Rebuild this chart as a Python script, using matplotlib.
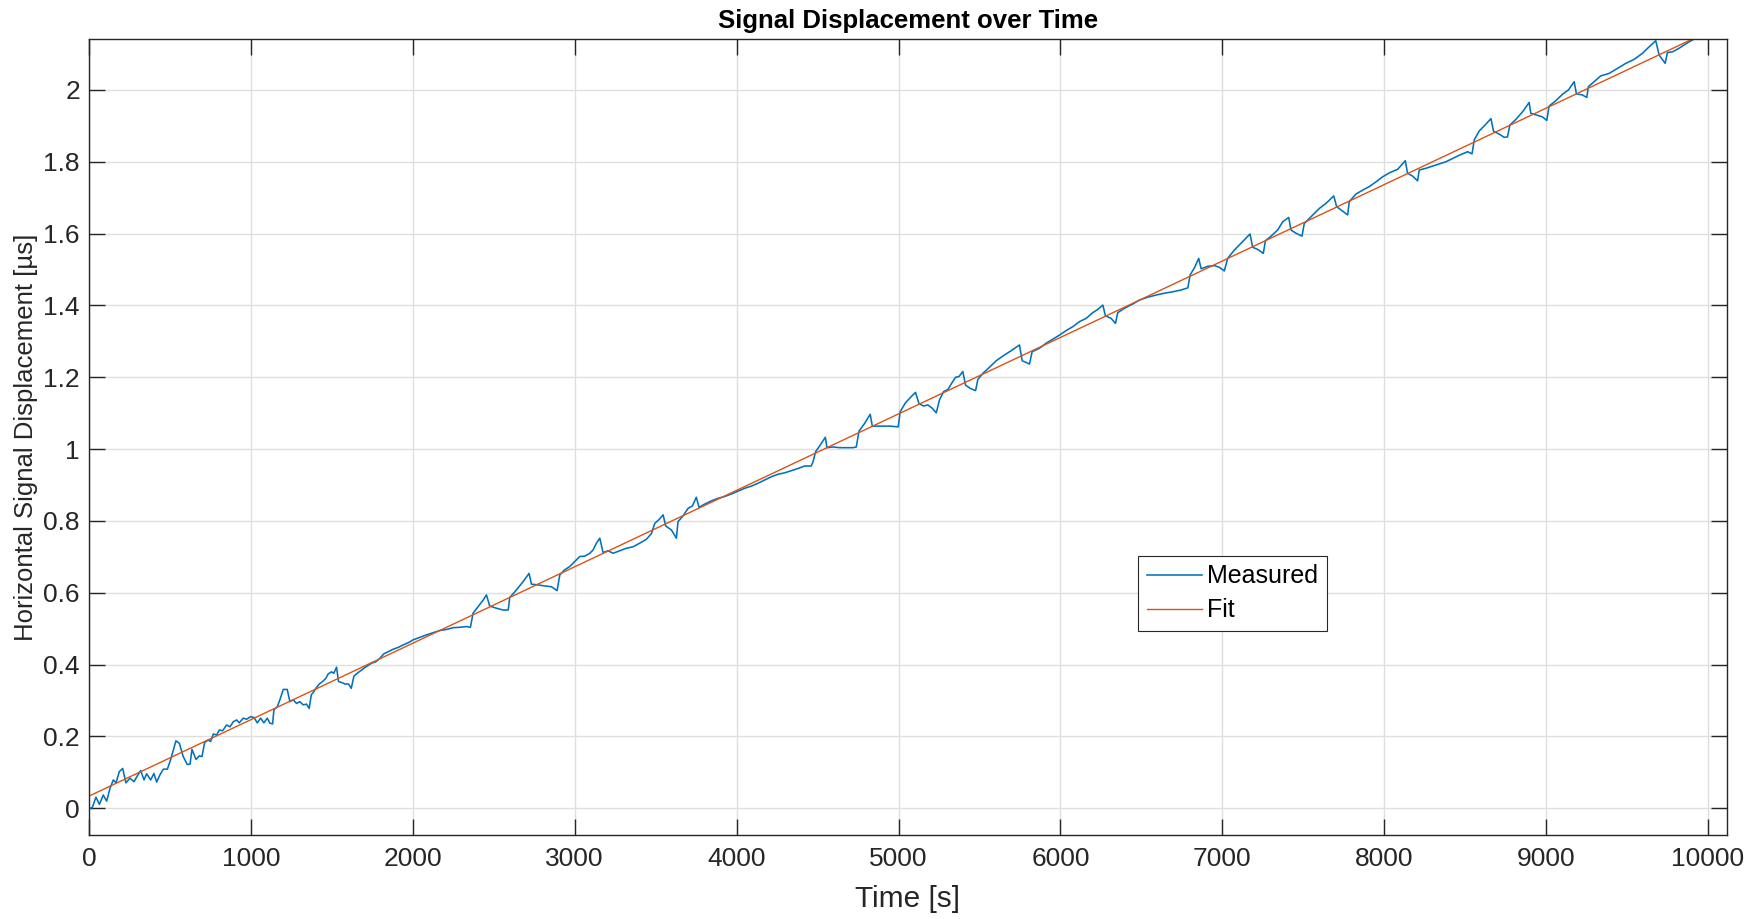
import matplotlib
matplotlib.use("Agg")
import matplotlib.pyplot as plt

plt.rcParams['font.family'] = ['Liberation Sans', 'DejaVu Sans']

# ---- data ----
time_s = [6, 20, 43, 64, 88, 109, 130, 150, 167, 187, 208, 228, 253, 278, 298, 319, 340, 356, 381, 401,
          418, 438, 459, 484, 504, 537, 558, 582, 607, 624, 636, 661, 681, 698, 714, 735, 751, 768, 788, 805,
          825, 850, 871, 891, 912, 928, 953, 973, 998, 1019, 1039, 1060, 1080, 1101, 1117, 1134, 1142, 1163, 1179, 1200,
          1224, 1241, 1261, 1282, 1302, 1323, 1344, 1360, 1373, 1389, 1406, 1422, 1443, 1463, 1477, 1498, 1512, 1529, 1541, 1562,
          1582, 1603, 1620, 1636, 1657, 1677, 1698, 1718, 1745, 1772, 1797, 1821, 1848, 1879, 1910, 1941, 1972, 2002, 2044, 2085,
          2126, 2167, 2209, 2250, 2291, 2332, 2356, 2372, 2403, 2435, 2455, 2475, 2517, 2558, 2589, 2599, 2640, 2681, 2718, 2733,
          2774, 2815, 2856, 2891, 2908, 2938, 2969, 3000, 3031, 3062, 3093, 3113, 3134, 3155, 3175, 3206, 3237, 3278, 3319, 3360,
          3401, 3443, 3474, 3494, 3521, 3546, 3562, 3597, 3628, 3638, 3669, 3700, 3727, 3751, 3768, 3803, 3844, 3885, 3926, 3967,
          4009, 4050, 4091, 4132, 4173, 4214, 4256, 4297, 4338, 4379, 4420, 4461, 4472, 4488, 4513, 4548, 4558, 4595, 4636, 4677,
          4719, 4739, 4756, 4791, 4825, 4838, 4883, 4945, 4998, 5010, 5043, 5078, 5105, 5126, 5154, 5181, 5208, 5233, 5253, 5278,
          5305, 5325, 5352, 5373, 5397, 5414, 5443, 5476, 5490, 5521, 5562, 5603, 5644, 5696, 5747, 5764, 5809, 5825, 5871, 5912,
          5953, 5996, 6035, 6077, 6118, 6159, 6200, 6231, 6262, 6278, 6313, 6340, 6354, 6395, 6447, 6488, 6540, 6591, 6642, 6694,
          6745, 6787, 6801, 6828, 6854, 6869, 6910, 6951, 6982, 7012, 7033, 7074, 7115, 7146, 7171, 7187, 7218, 7253, 7266, 7301,
          7342, 7373, 7410, 7424, 7455, 7492, 7506, 7537, 7568, 7599, 7640, 7688, 7706, 7739, 7774, 7784, 7825, 7867, 7908, 7949,
          7990, 8031, 8083, 8130, 8144, 8175, 8206, 8216, 8258, 8299, 8340, 8381, 8422, 8463, 8515, 8542, 8556, 8587, 8618, 8659,
          8675, 8710, 8741, 8761, 8776, 8813, 8854, 8895, 8905, 8940, 8977, 9004, 9018, 9060, 9101, 9138, 9173, 9187, 9224, 9251,
          9261, 9296, 9337, 9389, 9440, 9492, 9543, 9595, 9636, 9677, 9698, 9735, 9749, 9780, 9821, 9862, 9903, 9944, 9990, 10040,
          10110]
measured_us = [0.000, 0.002, 0.031, 0.011, 0.037, 0.020, 0.056, 0.079, 0.071, 0.102, 0.111, 0.071, 0.084, 0.074, 0.090, 0.105, 0.079, 0.096, 0.079, 0.097,
               0.073, 0.093, 0.109, 0.109, 0.135, 0.188, 0.181, 0.144, 0.122, 0.123, 0.164, 0.136, 0.146, 0.144, 0.183, 0.190, 0.186, 0.207, 0.204, 0.218,
               0.216, 0.232, 0.227, 0.241, 0.246, 0.238, 0.251, 0.248, 0.255, 0.253, 0.238, 0.251, 0.238, 0.251, 0.237, 0.235, 0.274, 0.283, 0.302, 0.331,
               0.331, 0.297, 0.302, 0.292, 0.297, 0.288, 0.290, 0.278, 0.316, 0.325, 0.337, 0.346, 0.353, 0.362, 0.374, 0.380, 0.376, 0.393, 0.353, 0.350,
               0.346, 0.346, 0.334, 0.368, 0.376, 0.383, 0.390, 0.396, 0.404, 0.408, 0.418, 0.430, 0.436, 0.443, 0.448, 0.455, 0.461, 0.469, 0.476, 0.483,
               0.489, 0.495, 0.498, 0.503, 0.504, 0.506, 0.504, 0.543, 0.561, 0.580, 0.594, 0.563, 0.557, 0.552, 0.552, 0.587, 0.608, 0.631, 0.654, 0.624,
               0.622, 0.619, 0.617, 0.606, 0.650, 0.664, 0.673, 0.687, 0.701, 0.702, 0.710, 0.719, 0.738, 0.752, 0.712, 0.717, 0.710, 0.717, 0.724, 0.728,
               0.738, 0.749, 0.765, 0.793, 0.804, 0.817, 0.786, 0.775, 0.752, 0.798, 0.814, 0.835, 0.842, 0.866, 0.838, 0.847, 0.856, 0.863, 0.868, 0.875,
               0.883, 0.891, 0.897, 0.905, 0.914, 0.923, 0.930, 0.934, 0.940, 0.946, 0.953, 0.953, 0.965, 0.993, 1.009, 1.033, 1.004, 1.006, 1.004, 1.004,
               1.004, 1.006, 1.050, 1.072, 1.097, 1.064, 1.064, 1.064, 1.062, 1.104, 1.129, 1.146, 1.158, 1.127, 1.120, 1.123, 1.114, 1.101, 1.137, 1.160,
               1.166, 1.181, 1.200, 1.202, 1.216, 1.178, 1.169, 1.163, 1.194, 1.211, 1.228, 1.246, 1.259, 1.274, 1.290, 1.246, 1.237, 1.271, 1.281, 1.295,
               1.306, 1.318, 1.330, 1.341, 1.355, 1.364, 1.380, 1.389, 1.401, 1.371, 1.364, 1.350, 1.380, 1.392, 1.404, 1.415, 1.423, 1.429, 1.434, 1.438,
               1.443, 1.449, 1.485, 1.505, 1.531, 1.502, 1.509, 1.511, 1.506, 1.496, 1.531, 1.554, 1.573, 1.587, 1.599, 1.562, 1.556, 1.545, 1.580, 1.593,
               1.610, 1.633, 1.645, 1.610, 1.601, 1.593, 1.628, 1.642, 1.656, 1.670, 1.684, 1.705, 1.675, 1.664, 1.652, 1.689, 1.710, 1.721, 1.731, 1.744,
               1.758, 1.769, 1.779, 1.803, 1.768, 1.760, 1.747, 1.777, 1.782, 1.788, 1.794, 1.800, 1.809, 1.818, 1.828, 1.822, 1.861, 1.886, 1.900, 1.920,
               1.885, 1.877, 1.868, 1.869, 1.902, 1.918, 1.939, 1.965, 1.935, 1.930, 1.925, 1.915, 1.955, 1.970, 1.988, 2.000, 2.023, 1.989, 1.986, 1.979,
               2.009, 2.023, 2.039, 2.046, 2.060, 2.074, 2.085, 2.102, 2.120, 2.137, 2.097, 2.074, 2.104, 2.106, 2.116, 2.128, 2.139, 2.148, 2.160, 2.142,
               2.170]

fit_time_s = [0, 10117]
fit_us = [0.034, 2.187]

x_ticks = [0, 1000, 2000, 3000, 4000, 5000, 6000, 7000, 8000, 9000, 10000]
y_ticks = [0, 0.2, 0.4, 0.6, 0.8, 1.0, 1.2, 1.4, 1.6, 1.8, 2.0]
y_tick_labels = ['0', '0.2', '0.4', '0.6', '0.8', '1', '1.2', '1.4', '1.6', '1.8', '2']

# ---- figure ----
W, H = 1758, 919
fig = plt.figure(figsize=(W / 100, H / 100), dpi=100)
ax = fig.add_axes([89 / W, 1 - 835 / H, (1727 - 89) / W, (835 - 38.7) / H])

ax.plot(time_s, measured_us, color='#0072BD', lw=1.15, label='Measured')
ax.plot(fit_time_s, fit_us, color='#D95319', lw=1.0, label='Fit')

ax.set_xlim(0, 10117)
ax.set_ylim(-0.0743, 2.1426)
ax.set_xticks(x_ticks)
ax.set_yticks(y_ticks)
ax.set_yticklabels(y_tick_labels)

dark = '#262626'
ax.grid(True, color='#dfdfdf', lw=1.0)
ax.set_axisbelow(True)
for s in ax.spines.values():
    s.set_color(dark)
    s.set_linewidth(1.0)
ax.tick_params(direction='in', length=11.5, width=1.0, colors=dark,
               top=True, right=True, labelsize=19)
ax.tick_params(axis='x', pad=9)
ax.tick_params(axis='y', pad=6.5)

ax.set_xlabel('Time [s]', fontsize=21.5, color=dark, labelpad=10)
ax.set_ylabel('Horizontal Signal Displacement [µs]', fontsize=18.5, color=dark, labelpad=4)
ax.set_title('Signal Displacement over Time', fontsize=18.5, fontweight='bold', color='black', pad=7.5)

leg = ax.legend(loc='upper left', bbox_to_anchor=(0.6406, 0.3507), borderaxespad=0,
                fontsize=18, frameon=True, fancybox=False, framealpha=1,
                edgecolor='#262626', handlelength=2.2, handletextpad=0.2,
                labelspacing=0.4, borderpad=0.35)
leg.get_frame().set_linewidth(0.8)

fig.savefig('out.png', dpi=100)
